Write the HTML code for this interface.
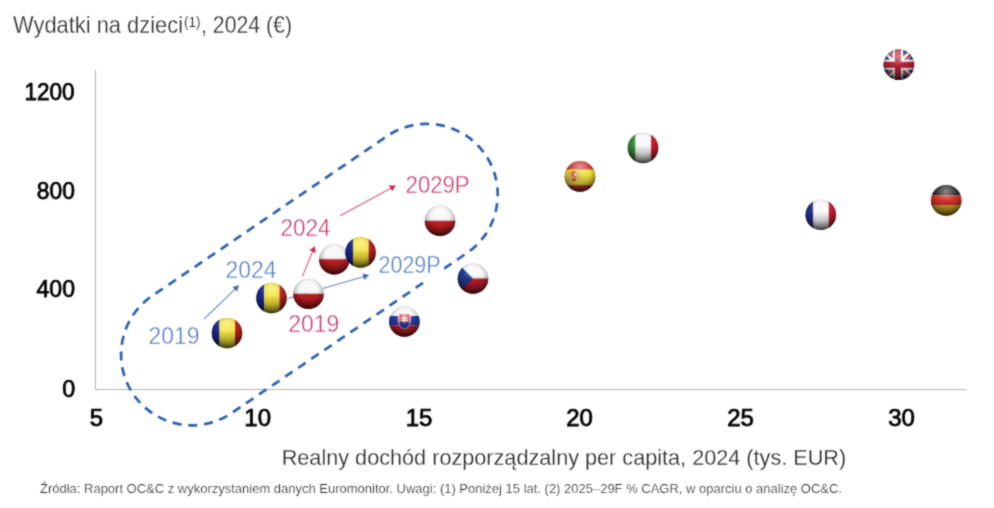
<!DOCTYPE html>
<html><head><meta charset="utf-8">
<style>
html,body{margin:0;padding:0;background:#fff;}
body{width:994px;height:508px;overflow:hidden;}
svg{display:block;font-family:"Liberation Sans",sans-serif;}
#wrap{width:994px;height:508px;}
</style></head>
<body><div id="wrap">
<svg width="994" height="508" viewBox="0 0 994 508">
<defs>
  <clipPath id="cc"><circle cx="0" cy="0" r="15.3"/></clipPath>
  <radialGradient id="edge" cx="0" cy="-3" r="19" gradientUnits="userSpaceOnUse">
    <stop offset="0" stop-color="#000" stop-opacity="0"/>
    <stop offset="0.5" stop-color="#000" stop-opacity="0"/>
    <stop offset="0.75" stop-color="#000" stop-opacity="0.22"/>
    <stop offset="1" stop-color="#000" stop-opacity="0.7"/>
  </radialGradient>
  <linearGradient id="bot" x1="0" y1="-15" x2="0" y2="15" gradientUnits="userSpaceOnUse">
    <stop offset="0" stop-color="#000" stop-opacity="0"/>
    <stop offset="0.4" stop-color="#000" stop-opacity="0"/>
    <stop offset="1" stop-color="#000" stop-opacity="0.45"/>
  </linearGradient>
  <radialGradient id="gloss" cx="0" cy="-9" r="11" gradientUnits="userSpaceOnUse">
    <stop offset="0" stop-color="#fff" stop-opacity="0.45"/>
    <stop offset="1" stop-color="#fff" stop-opacity="0"/>
  </radialGradient>
  <g id="shade">
    <rect x="-16" y="-16" width="32" height="32" fill="url(#bot)"/>
    <rect x="-16" y="-16" width="32" height="32" fill="url(#edge)"/>
    <rect x="-16" y="-16" width="32" height="32" fill="url(#gloss)"/>
  </g>
  <g id="ro"><g clip-path="url(#cc)">
    <rect x="-16" y="-16" width="8.5" height="32" fill="#1c2a92"/>
    <rect x="-7.5" y="-16" width="15.5" height="32" fill="#f4e43a"/>
    <rect x="8" y="-16" width="8" height="32" fill="#b82420"/>
    <use href="#shade"/>
  </g></g>
  <g id="pl"><g clip-path="url(#cc)">
    <rect x="-16" y="-16" width="32" height="16" fill="#f6f6f6"/>
    <rect x="-16" y="0" width="32" height="16" fill="#d02228"/>
    <use href="#shade"/>
  </g></g>
  <g id="cz"><g clip-path="url(#cc)">
    <rect x="-16" y="-16" width="32" height="16" fill="#f6f6f6"/>
    <rect x="-16" y="0" width="32" height="16" fill="#c41e2e"/>
    <path d="M-16,-16 L0,0 L-16,16 Z" fill="#213c8e"/>
    <use href="#shade"/>
  </g></g>
  <g id="sk"><g clip-path="url(#cc)">
    <rect x="-16" y="-16" width="32" height="10.5" fill="#f6f6f6"/>
    <rect x="-16" y="-5.5" width="32" height="9.5" fill="#2a3aa8"/>
    <rect x="-16" y="4" width="32" height="12" fill="#cc2228"/>
    <path d="M-6.2,-8.2 h12.4 v7.5 q0,6.5 -6.2,8.8 q-6.2,-2.3 -6.2,-8.8 z" fill="#fff"/>
    <path d="M-5.2,-7.2 h10.4 v6.5 q0,5.6 -5.2,7.6 q-5.2,-2 -5.2,-7.6 z" fill="#de3a3a"/>
    <path d="M-5.2,1.5 q2.6,-2.5 5.2,0 q2.6,-2.5 5.2,0 v0.8 q-0.5,3.4 -5.2,5.3 q-4.7,-1.9 -5.2,-5.3 z" fill="#2a3aa8"/>
    <path d="M0,-6 v7 M-3,-3.5 h6 M-3.6,-1 h7.2" stroke="#fff" stroke-width="1.3"/>
    <use href="#shade"/>
  </g></g>
  <g id="es"><g clip-path="url(#cc)">
    <rect x="-16" y="-16" width="32" height="32" fill="#d23a3a"/>
    <rect x="-16" y="-7" width="32" height="16" fill="#f2e03a"/>
    <path d="M-10.5,-3.2 v8 M-1.8,-3.2 v8" stroke="#b8a8a0" stroke-width="1.3"/>
    <path d="M-10.5,-3.6 h1.4 M-1.8,-3.6 h1.4" stroke="#c0504a" stroke-width="1"/>
    <path d="M-9,-4.6 q2.8,-1.8 5.6,0 v1 h-5.6 z" fill="#c8483a"/>
    <path d="M-8.6,-3.2 h4.8 v5.2 q0,2.6 -2.4,3.2 q-2.4,-0.6 -2.4,-3.2 z" fill="#c8383a"/>
    <path d="M-6.2,-3.2 v3 h2.4 v-3 z" fill="#e8c8c0"/>
    <path d="M-8.6,-0.2 h2.4 v3 h-2.4 z" fill="#e0b040"/>
    <path d="M-6.2,0.4 h2 M-6.2,2 h2" stroke="#f0d040" stroke-width="0.7"/>
    <use href="#shade"/>
  </g></g>
  <g id="it"><g clip-path="url(#cc)">
    <rect x="-16" y="-16" width="8.5" height="32" fill="#3a9040"/>
    <rect x="-7.5" y="-16" width="15.5" height="32" fill="#f8f8f8"/>
    <rect x="8" y="-16" width="8" height="32" fill="#cc2030"/>
    <use href="#shade"/>
  </g></g>
  <g id="fr"><g clip-path="url(#cc)">
    <rect x="-16" y="-16" width="8.5" height="32" fill="#27358f"/>
    <rect x="-7.5" y="-16" width="15.5" height="32" fill="#f8f8f8"/>
    <rect x="8" y="-16" width="8" height="32" fill="#c81e32"/>
    <use href="#shade"/>
  </g></g>
  <g id="de"><g clip-path="url(#cc)">
    <rect x="-16" y="-16" width="32" height="11" fill="#2a2a2a"/>
    <rect x="-16" y="-5" width="32" height="10" fill="#d8322a"/>
    <rect x="-16" y="5" width="32" height="11" fill="#d8b020"/>
    <use href="#shade"/>
  </g></g>
  <g id="uk"><g clip-path="url(#cc)">
    <rect x="-16" y="-16" width="32" height="32" fill="#222c7a"/>
    <path d="M-16,-16 L16,16 M16,-16 L-16,16" stroke="#f2f2f2" stroke-width="5.5"/>
    <path d="M-16,-17.5 L0,-1.5 M16,17.5 L0,1.5 M17.5,-16 L1.5,0 M-17.5,16 L-1.5,0" stroke="#b8203a" stroke-width="2"/>
    <path d="M-1,-16 V16 M-16,0 H16" stroke="#f2f2f2" stroke-width="10.5"/>
    <path d="M-1,-16 V16 M-16,0 H16" stroke="#bc2236" stroke-width="6"/>
    <use href="#shade"/>
  </g></g>
  <marker id="ab" viewBox="0 0 6 7" refX="5.6" refY="3.5" markerWidth="6" markerHeight="7" markerUnits="userSpaceOnUse" orient="auto">
    <path d="M0,0 L6,3.5 L0,7 z" fill="#4a6cb8"/>
  </marker>
  <marker id="ar" viewBox="0 0 6 7" refX="5.6" refY="3.5" markerWidth="6" markerHeight="7" markerUnits="userSpaceOnUse" orient="auto">
    <path d="M0,0 L6,3.5 L0,7 z" fill="#c92a55"/>
  </marker>
<filter id="soft" x="-5%" y="-5%" width="110%" height="110%"><feGaussianBlur stdDeviation="0.45"/></filter>
<filter id="soft2" x="0" y="0" width="994" height="508" filterUnits="userSpaceOnUse" color-interpolation-filters="sRGB"><feConvolveMatrix order="3" kernelMatrix="1 2 1 2 10 2 1 2 1" divisor="22" edgeMode="duplicate" preserveAlpha="false"/></filter>
</defs>
<g filter="url(#soft2)">
<rect x="0" y="0" width="994" height="508" fill="#fff"/>

<!-- title -->
<g fill="#2a2a2a" font-size="24" stroke="#fff" stroke-width="0.3">
<text x="13" y="33.2" textLength="170" lengthAdjust="spacingAndGlyphs">Wydatki na dzieci</text>
<text x="184" y="26.5" font-size="15.5" stroke-width="0.2" textLength="16.5" lengthAdjust="spacingAndGlyphs">(1)</text>
<text x="201" y="33.2" textLength="91" lengthAdjust="spacingAndGlyphs">, 2024 (€)</text>
</g>

<!-- axes -->
<line x1="95.5" y1="70" x2="95.5" y2="389.5" stroke="#b4b4b4" stroke-width="1"/>
<line x1="95" y1="389.5" x2="966" y2="389.5" stroke="#b4b4b4" stroke-width="1"/>

<!-- y ticks -->
<g font-size="24" fill="#000" stroke="#000" stroke-width="0.75" text-anchor="end">
  <text x="74.6" y="100" textLength="50" lengthAdjust="spacingAndGlyphs">1200</text>
  <text x="74.8" y="199" textLength="38" lengthAdjust="spacingAndGlyphs">800</text>
  <text x="75" y="297.4" textLength="38.5" lengthAdjust="spacingAndGlyphs">400</text>
  <text x="75.3" y="396.6" textLength="13" lengthAdjust="spacingAndGlyphs">0</text>
</g>
<!-- x ticks -->
<g font-size="24" fill="#000" stroke="#000" stroke-width="0.75" text-anchor="middle">
  <text x="96.4" y="426">5</text>
  <text x="257.7" y="426">10</text>
  <text x="419" y="426">15</text>
  <text x="579.5" y="426">20</text>
  <text x="740.5" y="426">25</text>
  <text x="901.5" y="426">30</text>
</g>

<!-- dashed stadium -->
<path d="M437,273.44 L231.1,413.45 A70.8,70.8 0 0 1 151.5,296.35 L387.7,135.7 A70.8,70.8 0 0 1 467.3,252.8 Z" fill="none" stroke="#2d60b0" stroke-width="2.7" stroke-dasharray="9 6.78" stroke-dashoffset="-1.07"/>

<!-- axis title -->
<text x="281.7" y="464.8" font-size="22" fill="#1e1e1e" stroke="#fff" stroke-width="0.3" textLength="564.5" lengthAdjust="spacingAndGlyphs">Realny dochód rozporządzalny per capita, 2024 (tys. EUR)</text>
<!-- footnote -->
<text x="40" y="493.3" font-size="12" fill="#262626" stroke="#fff" stroke-width="0.2" textLength="802" lengthAdjust="spacingAndGlyphs">Źródła: Raport OC&amp;C z wykorzystaniem danych Euromonitor. Uwagi: (1) Poniżej 15 lat. (2) 2025–29F % CAGR, w oparciu o analizę OC&amp;C.</text>

<!-- arrows -->
<line x1="204" y1="319.2" x2="238.6" y2="285.6" stroke="#6a86c4" stroke-width="1.15" marker-end="url(#ab)"/>
<line x1="288" y1="298.5" x2="368.6" y2="275.2" stroke="#6a86c4" stroke-width="1.15" marker-end="url(#ab)"/>
<line x1="302.5" y1="276.4" x2="314.6" y2="246.6" stroke="#d95a7c" stroke-width="1.15" marker-end="url(#ar)"/>
<line x1="340.2" y1="215.8" x2="395.4" y2="185.8" stroke="#d95a7c" stroke-width="1.15" marker-end="url(#ar)"/>

<!-- labels -->
<rect x="374" y="250" width="70" height="31" fill="#fff"/>
<g font-size="24" fill="#4a76c2" stroke="#fff" stroke-width="0.45">
  <text x="148.6" y="343.5" textLength="51" lengthAdjust="spacingAndGlyphs">2019</text>
  <text x="225.4" y="277.6" textLength="51" lengthAdjust="spacingAndGlyphs">2024</text>
  <text x="378.6" y="272.6" textLength="62" lengthAdjust="spacingAndGlyphs">2029P</text>
</g>
<g font-size="24" fill="#cc3060" stroke="#fff" stroke-width="0.45">
  <text x="288.3" y="332.4" textLength="51" lengthAdjust="spacingAndGlyphs">2019</text>
  <text x="280.6" y="235.8" textLength="50" lengthAdjust="spacingAndGlyphs">2024</text>
  <text x="405.6" y="193.3" textLength="64" lengthAdjust="spacingAndGlyphs">2029P</text>
</g>

<!-- balls -->
<g>
<use href="#ro" x="227" y="333"/>
<use href="#ro" x="271.5" y="298"/>
<use href="#pl" x="308.5" y="293.8"/>
<use href="#pl" x="334.3" y="259.2"/>
<use href="#ro" x="360.6" y="252.4"/>
<use href="#pl" x="440" y="220.8"/>
<use href="#cz" x="473" y="278.5"/>
<use href="#sk" x="404.4" y="321.5"/>
<use href="#es" x="580" y="176.4"/>
<use href="#it" x="643" y="147.9"/>
<use href="#fr" x="820.8" y="214.8"/>
<use href="#de" x="946.2" y="200.4"/>
<use href="#uk" x="898.9" y="64.7"/>
</g>
</g>
</svg>
</div></body></html>
